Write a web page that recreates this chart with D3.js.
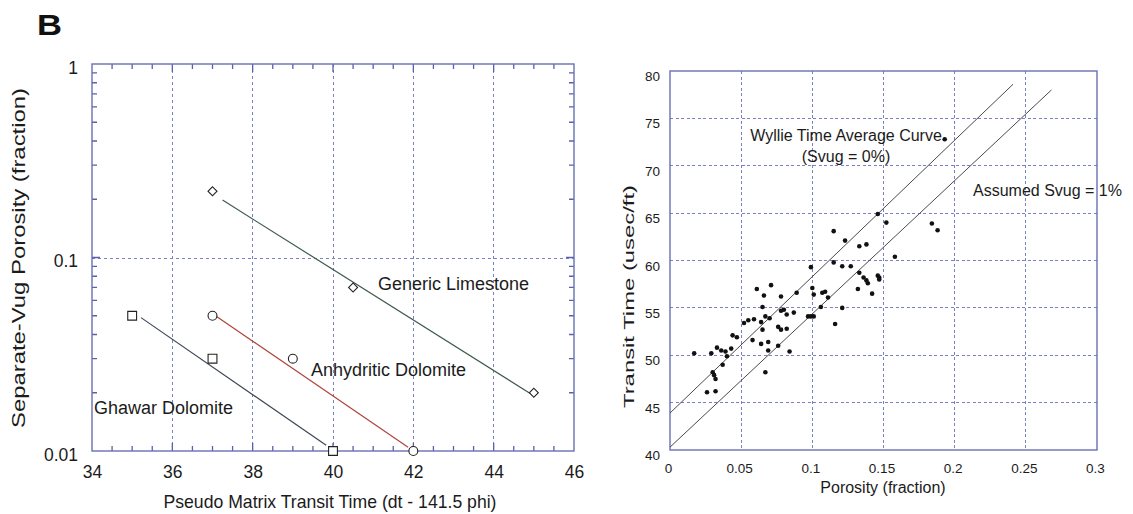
<!DOCTYPE html>
<html>
<head>
<meta charset="utf-8">
<script src="https://cdn.jsdelivr.net/npm/d3@7"></script>
<style>
  body { margin: 0; background: #fff; }
  svg { font-family: "Liberation Sans", Arial, sans-serif; fill: #1b1b1b; }
  .frame { fill: none; stroke: #6a70b6; stroke-width: 1.4; }
  .grid line { stroke: #7a80c8; stroke-width: 1; stroke-dasharray: 3,3; shape-rendering: crispEdges; }
  .lbl path, .lbl line { display: none; }
  .lbl text { fill: #1b1b1b; font-family: "Liberation Sans", Arial, sans-serif; }
</style>
</head>
<body>
<svg id="chart" width="1133" height="514"></svg>
<script>
// ---- left panel: separate-vug porosity vs pseudo matrix transit time
var leftXTicks = [34, 36, 38, 40, 42, 44, 46],
    leftYTicks = [0.01, 0.1, 1];

var ghawarX = [35, 37, 40],
    ghawarY = [0.05, 0.03, 0.01],
    ghawarFitX = [35.22, 39.83],
    ghawarFitY = [0.0489, 0.0107];

var anhydX = [37, 39, 42],
    anhydY = [0.05, 0.03, 0.01],
    anhydFitX = [37.02, 41.87],
    anhydFitY = [0.0509, 0.01045];

var limeX = [37, 40.5, 45],
    limeY = [0.22, 0.07, 0.02],
    limeFitX = [37.25, 44.9],
    limeFitY = [0.198, 0.0199];

// ---- right panel: transit time vs porosity
var rightXTicks = [0, 0.05, 0.1, 0.15, 0.2, 0.25, 0.3],
    rightYTicks = [40, 45, 50, 55, 60, 65, 70, 75, 80];

var porosity = [0.017, 0.029, 0.033, 0.036, 0.039, 0.043, 0.040, 0.037, 0.030, 0.031,
                0.032, 0.026, 0.032, 0.044, 0.047, 0.052, 0.055, 0.059, 0.058, 0.061,
                0.066, 0.071, 0.065, 0.064, 0.067, 0.070, 0.065, 0.064, 0.069, 0.069,
                0.067, 0.076, 0.076, 0.078, 0.082, 0.084, 0.078, 0.078, 0.080, 0.082,
                0.087, 0.089, 0.097, 0.099, 0.101, 0.099, 0.100, 0.101, 0.107, 0.109,
                0.106, 0.111, 0.116, 0.115, 0.121, 0.127, 0.121, 0.133, 0.132, 0.136,
                0.138, 0.139, 0.142, 0.146, 0.147, 0.147, 0.146, 0.152, 0.184, 0.188,
                0.158, 0.193, 0.115, 0.123, 0.133, 0.138];
var transit  = [50.2, 50.2, 50.8, 50.5, 50.4, 50.7, 49.9, 49.0, 48.2, 47.9,
                47.5, 46.1, 46.2, 52.1, 51.9, 53.4, 53.7, 53.8, 51.6, 57.0,
                56.3, 57.4, 55.1, 53.5, 54.1, 53.9, 52.7, 51.2, 51.4, 50.5,
                48.2, 51.0, 53.0, 52.7, 52.8, 50.4, 56.2, 54.7, 54.8, 54.3,
                54.5, 56.6, 54.1, 54.1, 54.1, 59.3, 57.1, 56.4, 56.6, 56.7,
                55.1, 56.1, 53.3, 59.8, 59.4, 59.4, 55.0, 58.7, 57.0, 58.2,
                57.9, 57.6, 56.5, 58.4, 58.2, 58.0, 64.9, 64.0, 63.9, 63.2,
                60.4, 72.8, 63.1, 62.1, 61.5, 61.7];

var wyllieX = [0, 0.241],
    wyllieY = [43.9, 78.6],
    svugX = [0, 0.268],
    svugY = [40.3, 78.0];

var svg = d3.select("#chart");

// panel label
svg.append("text")
    .attr("x", 37).attr("y", 35)
    .attr("textLength", 25).attr("lengthAdjust", "spacingAndGlyphs")
    .style("font-size", "30px").style("font-weight", "bold").style("fill", "#111")
    .text("B");

// ================= left panel =================
var lx = d3.scaleLinear().domain([34, 46]).range([92, 574]),
    ly = d3.scaleLog().domain([0.01, 1]).range([451, 64]);

var L = svg.append("g");

// dashed grid at major ticks
var lgrid = L.append("g").attr("class", "grid");
lgrid.selectAll("line.v").data(leftXTicks.slice(1, -1))
  .enter().append("line").attr("class", "v")
    .attr("x1", function(d) { return lx(d); }).attr("x2", function(d) { return lx(d); })
    .attr("y1", ly(1)).attr("y2", ly(0.01));
lgrid.selectAll("line.h").data(leftYTicks.slice(1, -1))
  .enter().append("line").attr("class", "h")
    .attr("x1", lx(34)).attr("x2", lx(46))
    .attr("y1", function(d) { return Math.round(ly(d)) + 0.5; })
    .attr("y2", function(d) { return Math.round(ly(d)) + 0.5; });

// inward ticks on all four sides (0.5 steps on x, 2..9 per decade on y)
var minorX = d3.range(34.5, 46, 0.5),
    minorY = [];
[0.01, 0.1].forEach(function(b) { for (var k = 2; k < 10; k++) minorY.push(b * k); });
minorY.push(0.1);

var tickPath = "";
minorX.forEach(function(d) {
  var len = d % 2 === 0 ? 8 : 5, x = lx(d);
  tickPath += "M" + x + "," + ly(0.01) + "v" + (-len);
  tickPath += "M" + x + "," + ly(1) + "v" + len;
});
minorY.forEach(function(d) {
  var len = d === 0.1 ? 8 : 5, y = ly(d);
  tickPath += "M" + lx(34) + "," + y + "h" + len;
  tickPath += "M" + lx(46) + "," + y + "h" + (-len);
});
L.append("path")
    .attr("d", tickPath)
    .attr("fill", "none")
    .attr("stroke", "#5a60aa")
    .attr("stroke-width", 1.3);

L.append("rect").attr("class", "frame")
    .attr("x", lx(34)).attr("y", ly(1))
    .attr("width", lx(46) - lx(34)).attr("height", ly(0.01) - ly(1));

// tick labels
L.append("g").attr("class", "lbl")
    .attr("transform", "translate(0," + ly(0.01) + ")")
    .call(d3.axisBottom(lx).tickValues(leftXTicks).tickSize(0).tickPadding(0))
  .selectAll("text")
    .attr("y", 27).attr("dy", 0)
    .style("font-size", "17.5px");

L.append("g").attr("class", "lbl")
    .attr("transform", "translate(" + lx(34) + ",0)")
    .call(d3.axisLeft(ly).tickValues(leftYTicks).tickSize(0).tickPadding(14).tickFormat(d3.format("~g")))
  .selectAll("text")
    .attr("dy", 0).attr("y", 9)
    .style("font-size", "17.5px");

// fitted lines
var lline = d3.line()
    .x(function(d) { return lx(d[0]); })
    .y(function(d) { return ly(d[1]); });

function fit(xs, ys, col) {
  L.append("path")
      .datum(d3.zip(xs, ys))
      .attr("d", lline)
      .attr("fill", "none").attr("stroke", col).attr("stroke-width", 1.2);
}
fit(limeFitX, limeFitY, "#3e5a4a");
fit(ghawarFitX, ghawarFitY, "#3c4656");
fit(anhydFitX, anhydFitY, "#b0443c");

// markers
function markers(xs, ys, shape) {
  L.append("g").selectAll("path")
      .data(d3.zip(xs, ys))
    .enter().append("path")
      .attr("transform", function(d) {
        return "translate(" + lx(d[0]) + "," + ly(d[1]) + ")" + (shape === "diamond" ? " rotate(45)" : "");
      })
      .attr("d", shape === "circle"
          ? d3.symbol().type(d3.symbolCircle).size(62)
          : d3.symbol().type(d3.symbolSquare).size(shape === "diamond" ? 40 : 78))
      .attr("fill", "#fff").attr("stroke", "#222").attr("stroke-width", 1.1);
}
markers(ghawarX, ghawarY, "square");
markers(anhydX, anhydY, "circle");
markers(limeX, limeY, "diamond");

L.append("text").attr("x", 378).attr("y", 289.5).style("font-size", "18px").text("Generic Limestone");
L.append("text").attr("x", 311).attr("y", 375.5).style("font-size", "18px").text("Anhydritic Dolomite");
L.append("text").attr("x", 94).attr("y", 413.5).style("font-size", "18px").text("Ghawar Dolomite");

// axis titles
L.append("text")
    .attr("text-anchor", "middle")
    .attr("x", 330).attr("y", 508)
    .attr("textLength", 333).attr("lengthAdjust", "spacingAndGlyphs")
    .style("font-size", "19px")
    .text("Pseudo Matrix Transit Time (dt - 141.5 phi)");
L.append("text")
    .attr("text-anchor", "middle")
    .attr("transform", "translate(25,258) rotate(-90)")
    .attr("textLength", 340).attr("lengthAdjust", "spacingAndGlyphs")
    .style("font-size", "18px")
    .text("Separate-Vug Porosity (fraction)");

// ================= right panel =================
var rx = d3.scaleLinear().domain([0, 0.3]).range([670, 1097]),
    ry = d3.scaleLinear().domain([40, 80]).range([450, 71]);

var R = svg.append("g");

var rgrid = R.append("g").attr("class", "grid");
rgrid.selectAll("line.v").data(rightXTicks.slice(1, -1))
  .enter().append("line").attr("class", "v")
    .attr("x1", function(d) { return rx(d); }).attr("x2", function(d) { return rx(d); })
    .attr("y1", ry(80)).attr("y2", ry(40));
rgrid.selectAll("line.h").data(rightYTicks.slice(1, -1))
  .enter().append("line").attr("class", "h")
    .attr("x1", rx(0)).attr("x2", rx(0.3))
    .attr("y1", function(d) { return ry(d); }).attr("y2", function(d) { return ry(d); });
rgrid.selectAll("line").style("stroke-dasharray", "3,2.5");

R.append("rect").attr("class", "frame")
    .attr("x", rx(0)).attr("y", ry(80))
    .attr("width", rx(0.3) - rx(0)).attr("height", ry(40) - ry(80));

R.append("g").attr("class", "lbl")
    .attr("transform", "translate(0," + ry(40) + ")")
    .call(d3.axisBottom(rx).tickValues(rightXTicks).tickSize(0).tickPadding(0).tickFormat(d3.format("~g")))
  .selectAll("text")
    .attr("y", 22.5).attr("dy", 0)
    .attr("dx", -2)
    .style("font-size", "13.5px");

R.append("g").attr("class", "lbl")
    .attr("transform", "translate(" + rx(0) + ",0)")
    .call(d3.axisLeft(ry).tickValues(rightYTicks).tickSize(0).tickPadding(10))
  .selectAll("text")
    .attr("dy", 0).attr("y", 9.5)
    .style("font-size", "13.5px");

var rline = d3.line()
    .x(function(d) { return rx(d[0]); })
    .y(function(d) { return ry(d[1]); });

[[wyllieX, wyllieY], [svugX, svugY]].forEach(function(s) {
  R.append("path")
      .datum(d3.zip(s[0], s[1]))
      .attr("d", rline)
      .attr("fill", "none").attr("stroke", "#4a4a4a").attr("stroke-width", 1);
});

R.append("g").selectAll("circle")
    .data(d3.zip(porosity, transit))
  .enter().append("circle")
    .attr("cx", function(d) { return rx(d[0]); })
    .attr("cy", function(d) { return ry(d[1]); })
    .attr("r", 2.3)
    .attr("fill", "#111");

R.append("text").attr("text-anchor", "middle").attr("x", 846).attr("y", 140.5)
    .style("font-size", "16px").text("Wyllie Time Average Curve");
R.append("text").attr("text-anchor", "middle").attr("x", 846).attr("y", 161.5)
    .style("font-size", "16px").text("(Svug = 0%)");
R.append("text").attr("x", 973).attr("y", 195.5)
    .style("font-size", "16px").text("Assumed Svug = 1%");

R.append("text")
    .attr("text-anchor", "middle")
    .attr("x", 883).attr("y", 493)
    .style("font-size", "16px")
    .text("Porosity (fraction)");
R.append("text")
    .attr("text-anchor", "middle")
    .attr("transform", "translate(634,296.5) rotate(-90)")
    .attr("textLength", 223).attr("lengthAdjust", "spacingAndGlyphs")
    .style("font-size", "15.5px")
    .text("Transit Time (usec/ft)");
</script>
</body>
</html>
